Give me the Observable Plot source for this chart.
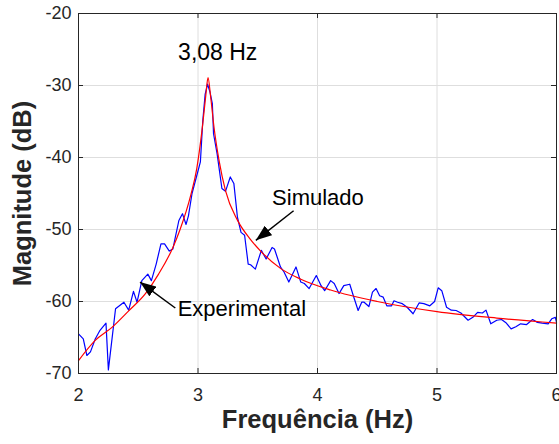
<!DOCTYPE html>
<html><head><meta charset="utf-8">
<script src="https://cdn.jsdelivr.net/npm/d3@7"></script>
<script src="https://cdn.jsdelivr.net/npm/@observablehq/plot@0.6"></script>
<style>
body{margin:0;background:#fff;}
#chart svg{display:block;}
</style>
</head><body><div id="chart"></div>
<script>
// Experimental (blue) measured magnitude
const expFreq = [2.00,2.04,2.07,2.10,2.14,2.18,2.23,2.25,2.31,2.38,2.42,2.46,2.49,2.53,2.58,2.61,2.65,2.69,2.72,2.76,2.79,2.81,2.84,2.87,2.90,2.92,2.95,2.99,3.02,3.04,3.06,3.08,3.10,3.12,3.13,3.16,3.20,3.23,3.27,3.30,3.33,3.36,3.39,3.42,3.44,3.48,3.53,3.57,3.62,3.64,3.69,3.72,3.76,3.82,3.86,3.89,3.93,3.99,4.03,4.06,4.11,4.14,4.18,4.22,4.27,4.30,4.34,4.37,4.39,4.43,4.46,4.49,4.52,4.55,4.58,4.62,4.64,4.67,4.71,4.75,4.80,4.85,4.89,4.94,4.98,5.01,5.04,5.08,5.12,5.16,5.20,5.26,5.30,5.34,5.38,5.41,5.45,5.50,5.54,5.58,5.62,5.66,5.70,5.75,5.80,5.84,5.88,5.93,5.96,5.99,6.00];
const expMag = [-64.5,-65.2,-67.5,-67.0,-65.2,-64.0,-63.0,-69.5,-61.0,-60.1,-61.2,-58.6,-60.1,-57.1,-56.2,-57.1,-54.8,-52.0,-52.0,-53.0,-52.7,-51.1,-48.75,-47.8,-49.3,-48.1,-45.0,-42.5,-40.6,-34.9,-31.2,-29.8,-30.9,-32.5,-36.7,-39.5,-44.3,-44.7,-42.7,-43.6,-48.3,-50.4,-50.8,-54.8,-54.9,-55.5,-52.9,-54.1,-52.5,-52.7,-55.2,-55.9,-57.3,-55.2,-57.3,-57.5,-58.2,-56.4,-57.8,-58.5,-57.1,-57.5,-58.9,-57.8,-57.6,-59.2,-61.25,-60.1,-60.1,-60.7,-58.7,-58.2,-59.2,-59.4,-60.6,-60.6,-59.9,-60.1,-60.3,-60.8,-61.7,-60.2,-60.3,-60.6,-60.0,-58.1,-58.5,-60.8,-61.2,-61.25,-61.6,-62.6,-62.2,-61.5,-61.6,-61.2,-63.1,-62.6,-62.5,-63.0,-63.8,-63.5,-63.1,-63.2,-62.5,-62.9,-63.0,-63.1,-62.4,-62.2,-62.9];

// Simulated (red) magnitude
const simFreq = [2.00,2.14,2.28,2.42,2.56,2.67,2.79,2.85,2.94,2.99,3.04,3.065,3.084,3.106,3.134,3.176,3.23,3.33,3.44,3.53,3.69,3.86,4.11,4.50,5.00,5.50,6.00];
const simMag  = [-68.2,-65.4,-63.6,-61.3,-58.9,-56.2,-52.5,-50.0,-45.2,-41.5,-35.3,-31.4,-28.9,-31.6,-35.8,-40.4,-44.6,-48.7,-51.4,-53.1,-55.4,-56.9,-58.4,-60.0,-61.4,-62.3,-63.0];

const xTicks = [2,3,4,5,6];
const yTicks = [-70,-60,-50,-40,-30,-20];
const xLabel = "Frequência (Hz)";
const yLabel = "Magnitude (dB)";

// Annotations (in data units)
const peakText = [{f:3.165, m:-25.4, t:"3,08 Hz"}];
const noteText = [
  {f:3.62, m:-45.6, t:"Simulado"},
  {f:2.83, m:-61.1, t:"Experimental"}
];
const arrows = [
  {f1:3.80, m1:-47.4, f2:3.484, m2:-51.5},
  {f1:2.81, m1:-60.9, f2:2.515, m2:-57.3}
];

const expData = expFreq.map((f,i)=>({f, m:expMag[i]}));
const simData = simFreq.map((f,i)=>({f, m:simMag[i]}));

const font = "'Liberation Sans', Arial, Helvetica, sans-serif";
const axisColor = "#262626";

function filledArrow(color) {
  const ns = "http://www.w3.org/2000/svg";
  const m = document.createElementNS(ns, "marker");
  m.setAttribute("viewBox", "-16 -6 16 12");
  m.setAttribute("markerWidth", "16");
  m.setAttribute("markerHeight", "12");
  m.setAttribute("markerUnits", "userSpaceOnUse");
  m.setAttribute("orient", "auto");
  m.setAttribute("refX", "0");
  m.setAttribute("refY", "0");
  const p = document.createElementNS(ns, "path");
  p.setAttribute("d", "M-16,-6L0,0L-16,6Z");
  p.setAttribute("fill", "black");
  p.setAttribute("stroke", "none");
  m.appendChild(p);
  return m;
}

const chart = Plot.plot({
  width: 559,
  height: 444,
  marginLeft: 78,
  marginRight: 3,
  marginTop: 13,
  marginBottom: 71,
  style: {fontFamily: font, background: "#fff", overflow: "visible"},
  x: {domain: [2, 6]},
  y: {domain: [-70, -20]},
  marks: [
    Plot.gridX(xTicks, {stroke: "#dedede", strokeOpacity: 1}),
    Plot.gridY(yTicks, {stroke: "#dedede", strokeOpacity: 1}),
    Plot.line(expData, {x: "f", y: "m", stroke: "#0000ff", strokeWidth: 1.2}),
    Plot.line(simData, {x: "f", y: "m", stroke: "#ff0000", strokeWidth: 1.2, curve: "monotone-x"}),
    Plot.frame({stroke: axisColor, strokeWidth: 1}),
    Plot.ruleX(xTicks, {stroke: axisColor, insetTop: 355}),
    Plot.ruleX(xTicks, {stroke: axisColor, insetBottom: 355}),
    Plot.ruleY(yTicks, {stroke: axisColor, insetRight: 473}),
    Plot.ruleY(yTicks, {stroke: axisColor, insetLeft: 473}),
    Plot.axisX(xTicks, {tickSize: 0, tickPadding: 15, fontSize: 18, fill: axisColor, tickFormat: d => String(d), label: null}),
    Plot.axisY(yTicks, {tickSize: 0, tickPadding: 7, fontSize: 18, fill: axisColor, tickFormat: d => String(d), label: null}),
    Plot.text([xLabel], {frameAnchor: "bottom", dy: 54, text: d => d, fontSize: 25.5, fontWeight: "bold", fill: axisColor, textAnchor: "middle"}),
    Plot.text([yLabel], {frameAnchor: "left", dx: -56, rotate: -90, text: d => d, fontSize: 25.5, fontWeight: "bold", fill: axisColor, textAnchor: "middle"}),
    Plot.text(peakText, {x: "f", y: "m", text: "t", fontSize: 23, fill: "black", textAnchor: "middle"}),
    Plot.text(noteText, {x: "f", y: "m", text: "t", fontSize: 22, fill: "black", textAnchor: "start"}),
    Plot.link(arrows, {x1: "f1", y1: "m1", x2: "f2", y2: "m2", stroke: "black", strokeWidth: 1.5, markerEnd: filledArrow})
  ]
});
document.getElementById("chart").appendChild(chart);
</script>
</body></html>
